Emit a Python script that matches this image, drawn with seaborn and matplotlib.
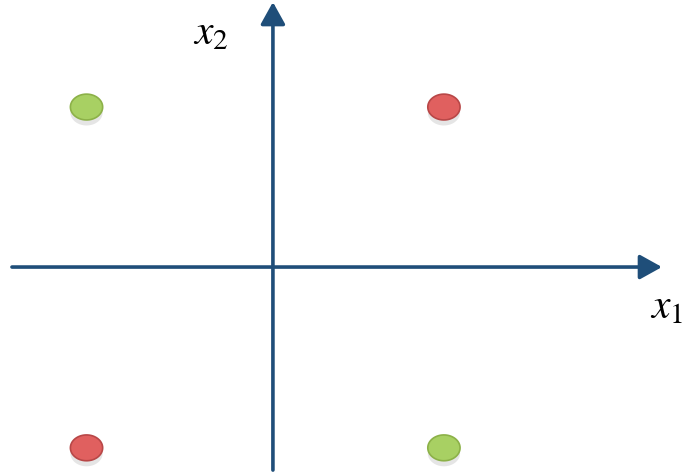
import numpy as np
import pandas as pd
import seaborn as sns
import matplotlib.pyplot as plt
from matplotlib.path import Path
import matplotlib.patheffects as pe

# XOR-style points
x1 = [-1.09, 1.0, -1.09, 1.0]
x2 = [1.0, 1.0, -1.13, -1.13]
label = ['green', 'red', 'red', 'green']

df = pd.DataFrame({'x1': x1, 'x2': x2, 'label': label})

sns.set_style('white')
plt.rcParams['mathtext.fontset'] = 'stix'

fig = plt.figure(figsize=(6.9, 4.72), dpi=100)
ax = fig.add_axes([0, 0, 1, 1])
ax.set_xlim(-1.596, 2.439)
ax.set_ylim(-1.281, 1.669)
ax.axis('off')

axis_col = '#1F4E79'
# horizontal axis
ax.annotate('', xy=(2.275, 0), xytext=(-1.526, 0),
            arrowprops=dict(arrowstyle='-|>,head_length=1.35,head_width=0.75',
                            color=axis_col, lw=2.6, shrinkA=0, shrinkB=0))
# vertical axis
ax.annotate('', xy=(0, 1.656), xytext=(0, -1.269),
            arrowprops=dict(arrowstyle='-|>,head_length=1.35,head_width=0.75',
                            color=axis_col, lw=2.6, shrinkA=0, shrinkB=0))

# ellipse marker
t = np.linspace(0, 2 * np.pi, 60)
ell = Path(np.column_stack([np.cos(t), 0.8 * np.sin(t)]), closed=True)

palette = {'green': '#A8D063', 'red': '#E0605F'}
edges = {'green': '#8CB148', 'red': '#B84747'}
for lab in ['green', 'red']:
    sub = df[df.label == lab]
    sns.scatterplot(data=sub, x='x1', y='x2', marker=ell, s=540,
                    color=palette[lab], edgecolor=edges[lab], linewidth=1.2,
                    ax=ax, legend=False, zorder=3,
                    path_effects=[pe.SimplePatchShadow(offset=(0, -4), alpha=0.15,
                                                       shadow_rgbFace='#555555'),
                                  pe.Normal()])

ax.text(0.305, 0.932, '$x_2$', transform=ax.transAxes, fontsize=30,
        ha='center', va='center', color='black')
ax.text(0.966, 0.352, '$x_1$', transform=ax.transAxes, fontsize=30,
        ha='center', va='center', color='black')

fig.savefig('out.png', dpi=100)
